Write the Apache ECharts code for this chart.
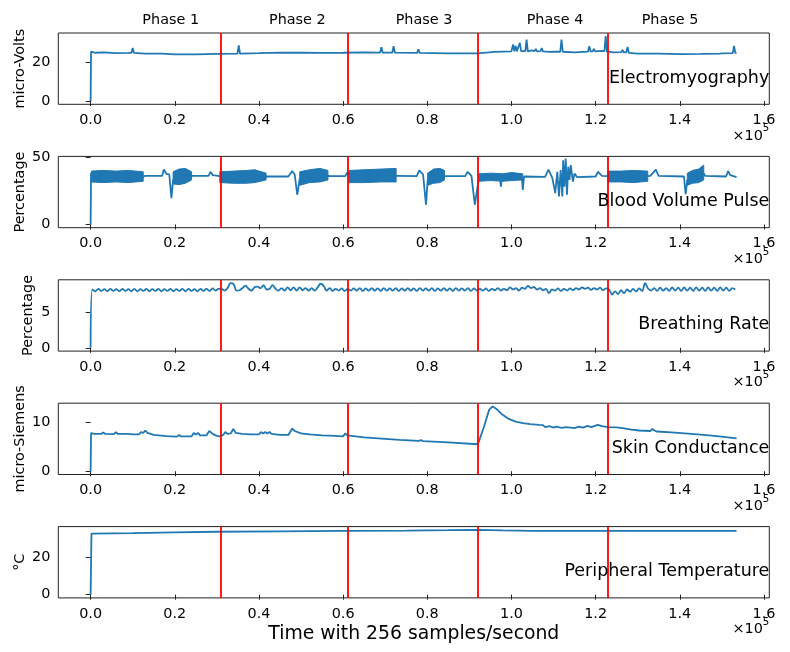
<!DOCTYPE html>
<html><head><meta charset="utf-8">
<script src="https://cdn.jsdelivr.net/npm/echarts@6/dist/echarts.min.js"></script>
<style>html,body{margin:0;padding:0;background:#fff}#c{width:790px;height:652px}</style>
</head><body><div id="c"></div><script>
// ---------------- DATA (x in units of 1e5 samples) ----------------
const phaseNames = ['Phase 1', 'Phase 2', 'Phase 3', 'Phase 4', 'Phase 5'];
const phaseBounds = [0.3072, 0.6144, 0.9216, 1.2288];
const panelTitles = ['Electromyography', 'Blood Volume Pulse', 'Breathing Rate', 'Skin Conductance', 'Peripheral Temperature'];
const yNames = ['micro-Volts', 'Percentage', 'Percentage', 'micro-Siemens', '°C'];
const xAxisTitle = 'Time with 256 samples/second';
const xOffsetBase = '×10', xOffsetExp = '5';
const xTicks = [0, 0.2, 0.4, 0.6, 0.8, 1.0, 1.2, 1.4, 1.6];
const xRange = [-0.0768, 1.6128];
const yTicks = [[0, 20], [0, 50], [0, 5], [0, 10], [0, 20]];
const yRanges = [[-1.65, 34.65], [-2.4, 50.4], [-0.45, 9.45], [-0.66, 13.86], [-1.72, 36.12]];

const emg = [[0,0],[0.001,25.2],[0.01,24.6],[0.03,24.8],[0.06,24.4],[0.09,24.5],[0.097,24.6],[0.1,27.0],[0.103,24.5],[0.13,24.2],[0.17,24.1],[0.2,23.8],[0.25,23.8],[0.3,24.0],[0.349,24.2],[0.352,28.3],[0.355,24.2],[0.4,24.4],[0.45,24.7],[0.5,24.6],[0.55,24.5],[0.6,24.6],[0.65,24.8],[0.688,24.7],[0.691,27.4],[0.694,24.7],[0.717,24.7],[0.72,28.0],[0.723,24.7],[0.776,24.5],[0.779,26.4],[0.782,24.5],[0.85,24.3],[0.92,24.3],[0.96,25.0],[1.0,25.3],[1.004,28.8],[1.007,25.3],[1.01,28.0],[1.013,25.4],[1.017,25.5],[1.02,29.6],[1.023,25.4],[1.033,25.4],[1.036,31.3],[1.039,25.3],[1.048,25.8],[1.052,25.2],[1.055,25.4],[1.058,26.6],[1.061,25.3],[1.065,26.2],[1.069,25.4],[1.072,27.0],[1.075,25.3],[1.09,25.0],[1.1,25.2],[1.116,25.1],[1.119,31.3],[1.122,25.1],[1.15,24.8],[1.182,25.2],[1.185,27.9],[1.188,25.3],[1.193,25.3],[1.196,26.5],[1.199,25.3],[1.215,25.5],[1.221,25.4],[1.224,33.1],[1.227,25.0],[1.235,25.0],[1.238,25.9],[1.241,24.8],[1.261,24.9],[1.264,26.0],[1.267,24.8],[1.273,24.8],[1.276,27.6],[1.279,24.5],[1.3,24.2],[1.35,24.1],[1.4,23.9],[1.45,24.0],[1.495,24.2],[1.497,24.8],[1.5,24.3],[1.526,24.4],[1.529,28.1],[1.532,24.5],[1.535,24.4]];

const bvp = [[0,0],[0.001,38],[0.125,35.5],[0.13,36],[0.17,36],[0.174,40.7],[0.18,37.5],[0.187,37],[0.192,19.5],[0.196,33],[0.24,36],[0.28,36],[0.285,39],[0.29,36.5],[0.307,35.8],[0.417,35.5],[0.42,36],[0.47,35.5],[0.479,39.6],[0.485,37],[0.491,22],[0.497,34],[0.564,36],[0.57,35.8],[0.605,35.8],[0.61,38.5],[0.614,36],[0.726,36],[0.73,35.8],[0.775,35.8],[0.781,40],[0.79,37],[0.797,14.6],[0.801,33],[0.841,35.8],[0.89,35.8],[0.896,39],[0.905,36],[0.913,14.6],[0.922,33],[0.973,34],[0.975,28],[0.977,34],[1.025,34],[1.027,25.6],[1.03,35.5],[1.08,35.3],[1.088,40.6],[1.095,36],[1.0975,34],[1.104,23.2],[1.109,39],[1.113,20.7],[1.117,40.2],[1.121,20.7],[1.123,47.5],[1.126,28],[1.129,48.8],[1.132,22],[1.135,42.7],[1.138,33],[1.141,43.9],[1.146,31.7],[1.15,37.8],[1.156,35],[1.16,35.5],[1.2,35.5],[1.206,39],[1.215,36],[1.229,35.8],[1.324,35.8],[1.33,36],[1.343,40.6],[1.35,36],[1.41,35.5],[1.414,22.4],[1.418,33],[1.457,38],[1.46,36],[1.51,35.5],[1.515,39.5],[1.52,36.5],[1.535,35]];
// oscillating bands of the pulse signal: upper and lower envelope
const bvpBandX  = [[0.002,0.03,0.06,0.09,0.125],[0.196,0.21,0.225,0.24],[0.307,0.34,0.37,0.39,0.417],[0.497,0.52,0.545,0.564],[0.614,0.65,0.69,0.726],[0.801,0.815,0.83,0.841],[0.922,0.95,0.98,1.0,1.027],[1.229,1.26,1.29,1.324],[1.418,1.43,1.445,1.457]];
const bvpBandHi = [[39.5,40,39.5,40,39],[39,41,41.5,39],[39,39.5,40,40.5,38],[39,40.5,41.5,40],[40,40.5,41,41.5],[38,41,41.5,40],[37.5,38,37.5,38.5,37.5],[39.5,39.5,40,39.5],[38,40,41,44]];
const bvpBandLo = [[31.5,31,31.5,31,32],[30,29.5,30.5,33],[31,30.5,30.5,31,33],[29,31,31.5,33],[31,31,31.5,31.5],[29,30.5,31,33],[32,32.5,32,32.5,33],[31.5,31.5,31,32],[29,30.5,31,33]];

const brStart = 0.004, brStep = 0.00714;
const breathing = [
8.1,7.85,8.2,7.9,8.15,7.85,8.2,7.9,8.15,7.85,8.2,7.9,8.15,7.85,8.2,7.85,8.15,7.9,8.2,7.85,8.15,7.9,8.2,7.85,8.15,7.9,8.2,7.85,8.15,7.9,8.2,7.85,8.2,7.9,8.15,7.85,8.2,7.9,8.2,7.9,8.25,7.95,8.2,
8.2,7.95,8.3,9.0,8.85,7.95,8.0,8.3,8.65,8.2,7.95,8.4,8.5,8.3,8.7,8.1,8.2,8.7,8.2,7.95,8.3,7.95,8.4,8.0,8.4,7.95,8.4,8.0,8.3,7.95,8.3,7.95,8.4,8.9,8.6,7.95,8.3,7.9,8.2,7.95,8.25,7.9,8.2,
7.95,8.25,7.95,8.3,7.9,8.25,7.95,8.3,7.95,8.25,7.9,8.3,7.95,8.25,7.95,8.3,7.9,8.25,7.95,8.3,7.95,8.25,7.9,8.3,7.95,8.25,7.95,8.3,7.9,8.25,7.95,8.3,7.95,8.25,7.9,8.3,7.95,8.25,7.95,8.3,7.9,8.25,7.95,
8.2,7.95,8.25,7.9,8.2,8.0,8.3,7.95,8.2,8.0,8.4,8.1,8.3,7.95,8.35,8.2,8.6,8.3,8.45,8.1,8.3,8.0,8.2,7.6,8.1,7.95,8.25,7.9,8.2,7.95,8.25,8.0,8.3,8.1,8.4,8.2,8.35,8.05,8.3,8.1,8.35,8.0,8.25,
8.1,7.4,7.85,7.45,8.0,7.6,8.1,7.8,8.2,7.85,8.25,7.9,9.0,8.2,7.95,8.3,7.9,8.35,7.95,8.3,7.9,8.4,7.95,8.35,7.9,8.4,7.95,8.35,7.9,8.4,7.95,8.35,7.9,8.4,7.95,8.35,7.9,8.4,7.95,8.35,7.9,8.3,8.1
];

const skin = [[0,0],[0.001,7.75],[0.01,7.6],[0.025,7.6],[0.03,7.9],[0.035,7.6],[0.055,7.55],[0.06,7.95],[0.065,7.6],[0.072,7.6],[0.076,7.9],[0.08,7.6],[0.09,7.6],[0.093,7.8],[0.1,7.5],[0.115,7.5],[0.12,8.0],[0.125,7.8],[0.13,8.3],[0.135,7.8],[0.15,7.4],[0.18,7.15],[0.205,7.05],[0.21,7.4],[0.215,7.1],[0.24,7.1],[0.245,7.8],[0.25,7.5],[0.255,7.8],[0.26,7.3],[0.275,7.3],[0.282,8.2],[0.29,7.6],[0.3,7.2],[0.307,7.1],[0.315,7.4],[0.32,8.0],[0.325,7.6],[0.333,7.7],[0.339,8.6],[0.345,7.8],[0.36,7.6],[0.38,7.5],[0.4,7.5],[0.405,8.0],[0.41,7.7],[0.415,8.0],[0.42,7.7],[0.425,8.0],[0.43,7.6],[0.45,7.4],[0.47,7.4],[0.479,8.7],[0.485,8.2],[0.5,7.7],[0.52,7.5],[0.55,7.3],[0.58,7.2],[0.6,7.1],[0.605,7.7],[0.61,7.3],[0.614,7.1],[0.65,6.9],[0.7,6.6],[0.734,6.4],[0.78,6.2],[0.785,6.35],[0.79,6.15],[0.85,5.9],[0.92,5.5],[0.924,6.4],[0.935,9.1],[0.947,12.5],[0.955,13.2],[0.963,12.8],[0.979,11.5],[0.995,10.6],[1.01,10.1],[1.027,9.8],[1.045,9.6],[1.066,9.45],[1.07,9.1],[1.075,9.4],[1.08,9.0],[1.09,9.2],[1.1,8.9],[1.106,9.1],[1.12,8.85],[1.13,9.0],[1.15,8.8],[1.16,9.1],[1.17,8.9],[1.181,9.25],[1.19,9.0],[1.205,9.45],[1.215,9.2],[1.229,9.0],[1.25,8.95],[1.264,8.8],[1.285,8.5],[1.304,8.3],[1.33,8.2],[1.335,8.6],[1.34,8.3],[1.345,8.1],[1.38,7.9],[1.404,7.75],[1.408,7.9],[1.412,7.7],[1.45,7.45],[1.494,7.1],[1.535,6.7]];

const temp = [[0,0],[0.002,32.4],[0.1,32.7],[0.2,33.1],[0.3,33.4],[0.45,33.6],[0.6,33.8],[0.75,34.0],[0.85,34.2],[0.92,34.4],[0.98,34.1],[1.05,33.9],[1.2,33.9],[1.35,33.8],[1.535,33.9]];

// ---------------- LAYOUT ----------------
const gridLeft = 58.3, gridWidth = 711, gridHeight = 71.3;
const gridTops = [33, 156.4, 279.8, 403.2, 526.6];
const yNameGaps = [31, 31, 23, 31, 31];
const FONT = '"DejaVu Sans", sans-serif';
const BLUE = '#1f77b4';

const breathingPts = [[0, 0]].concat(breathing.map((v, i) => [brStart + i * brStep, v]));
const seriesData = [emg, bvp, breathingPts, skin, temp];

const grids = [], xAxes = [], yAxes = [], series = [], graphics = [];
for (let i = 0; i < 5; i++) {
  grids.push({ left: gridLeft, top: gridTops[i], width: gridWidth, height: gridHeight,
    show: true, borderColor: '#222', borderWidth: 1, backgroundColor: 'transparent' });
  xAxes.push({
    type: 'value', gridIndex: i, min: xRange[0], max: xRange[1],
    axisLine: { show: false }, splitLine: { show: false },
    axisTick: { show: true, length: 5, customValues: xTicks, lineStyle: { color: '#222', width: 1 } },
    axisLabel: { show: true, customValues: xTicks, margin: 9, fontSize: 14.4, fontFamily: FONT, color: '#000',
      formatter: v => v.toFixed(1) },
    name: i === 4 ? xAxisTitle : '', nameLocation: 'middle', nameGap: 27, nameMoveOverlap: false,
    nameTextStyle: { fontSize: 18.8, fontFamily: FONT, color: '#000' }
  });
  yAxes.push({
    type: 'value', gridIndex: i, min: yRanges[i][0], max: yRanges[i][1],
    axisLine: { show: false }, splitLine: { show: false },
    axisTick: { show: true, length: 5, customValues: yTicks[i], lineStyle: { color: '#222', width: 1 } },
    axisLabel: { show: true, customValues: yTicks[i], margin: 8, fontSize: 14.4, fontFamily: FONT, color: '#000' },
    name: yNames[i], nameLocation: 'middle', nameGap: yNameGaps[i], nameRotate: 90, nameMoveOverlap: false,
    nameTextStyle: { fontSize: 14.4, fontFamily: FONT, color: '#000' }
  });
  series.push({
    type: 'line', xAxisIndex: i, yAxisIndex: i, data: seriesData[i],
    showSymbol: false, symbol: 'none', smooth: i === 2 ? 0.35 : false,
    lineStyle: { color: BLUE, width: 1.8 }, animation: false, silent: true, z: 2,
    markLine: { silent: true, symbol: 'none', animation: false, label: { show: false },
      lineStyle: { color: '#ff0000', width: 1.8, type: 'solid' },
      data: phaseBounds.map(b => ({ xAxis: b })) }
  });
  graphics.push({ type: 'text', x: gridLeft + gridWidth, y: gridTops[i] + 45,
    style: { text: panelTitles[i], font: '17.5px ' + FONT, fill: '#000', align: 'right', verticalAlign: 'middle',
      textAlign: 'right', textVerticalAlign: 'middle' }, z: 10 });
  graphics.push({ type: 'text', x: gridLeft + gridWidth, y: gridTops[i] + gridHeight + 29,
    style: { text: '{a|' + xOffsetBase + '}{s|' + xOffsetExp + '}', fill: '#000', align: 'right', verticalAlign: 'middle',
      textAlign: 'right', textVerticalAlign: 'middle',
      rich: { a: { fontSize: 14.4, fontFamily: FONT, lineHeight: 19, verticalAlign: 'bottom' },
              s: { fontSize: 10.2, fontFamily: FONT, lineHeight: 11, verticalAlign: 'top' } } }, z: 10 });
}
series.push({
  type: 'custom', xAxisIndex: 1, yAxisIndex: 1, animation: false, silent: true, z: 3,
  data: bvpBandX.map((xs, k) => [xs[0], bvpBandHi[k][0]]),
  renderItem: (params, api) => {
    const k = params.dataIndex;
    const xs = bvpBandX[k];
    const top = xs.map((x, j) => api.coord([x, bvpBandHi[k][j]]));
    const bot = xs.map((x, j) => api.coord([x, bvpBandLo[k][j]])).reverse();
    return { type: 'polygon', shape: { points: top.concat(bot) }, style: { fill: BLUE, stroke: BLUE, lineWidth: 1 } };
  }
});
const phaseX = [170.7, 297.3, 424, 555, 670];
phaseNames.forEach((p, k) => graphics.push({ type: 'text', x: phaseX[k], y: 20.7,
  style: { text: p, font: '14.4px ' + FONT, fill: '#000', align: 'center', verticalAlign: 'middle',
    textAlign: 'center', textVerticalAlign: 'middle' } }));

const chart = echarts.init(document.getElementById('c'), null, { renderer: 'canvas' });
chart.setOption({ animation: false, backgroundColor: '#fff', grid: grids, xAxis: xAxes, yAxis: yAxes,
  series: series, graphic: { elements: graphics } });
</script></body></html>
